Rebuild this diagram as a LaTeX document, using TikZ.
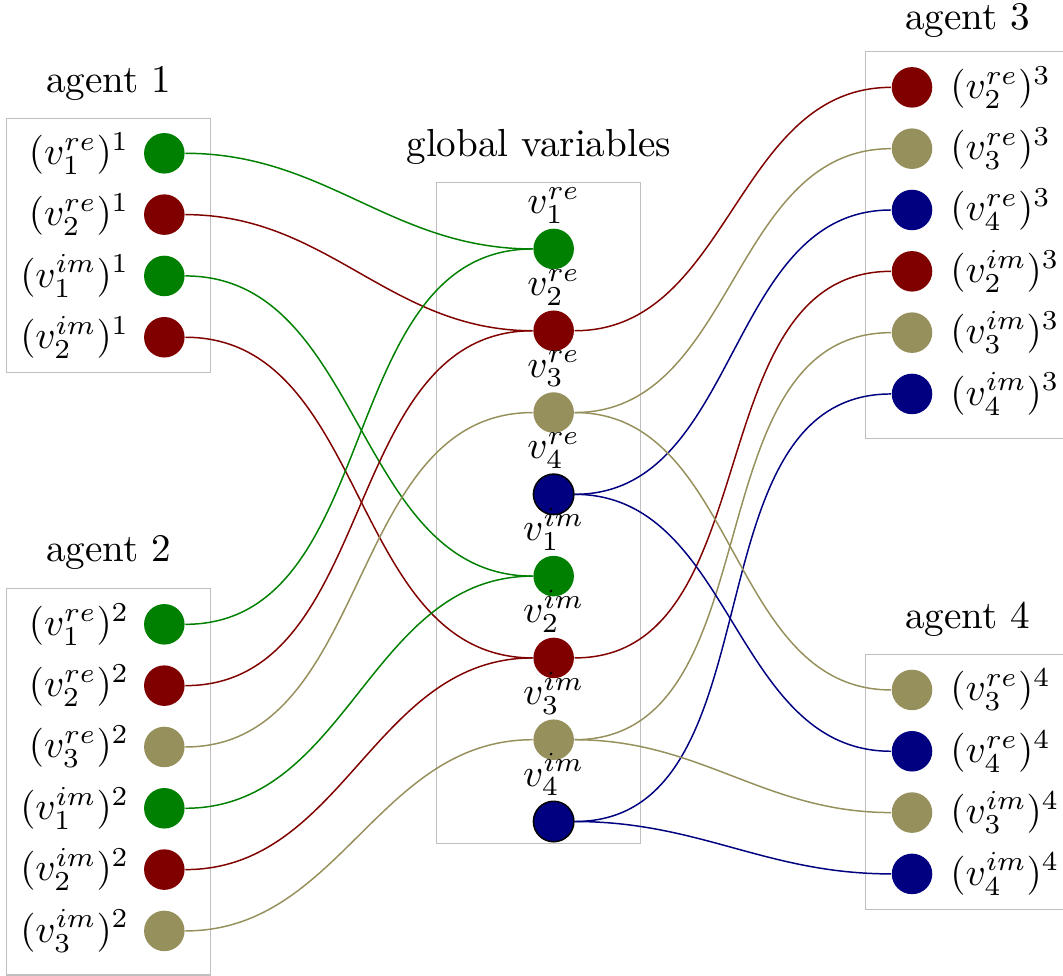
\RequirePackage{fix-cm}
\documentclass[tikz,border=0pt]{standalone}
\usepackage{amsmath}
\usetikzlibrary{positioning}
\definecolor{vgreen}{RGB}{0,128,0}
\definecolor{vred}{RGB}{128,0,0}
\definecolor{volive}{RGB}{150,144,92}
\definecolor{vblue}{RGB}{0,0,128}

\begin{document}
\begin{tikzpicture}[node distance={5.84mm}, thin, label distance=1.2pt,
    font=\fontsize{10.6pt}{12.7pt}\selectfont,
    main/.style = {circle, minimum size=0.386cm, inner sep=0pt},
    box/.style = {draw=black!25, inner sep=0pt, minimum width=1.943cm},
    lft/.style = {label={[label distance=0.3pt]left:#1}},
    glob/.style = {label={[label distance=-2.3pt]above:#1}}]
\useasboundingbox (0,0) rectangle (10.124,-9.295);

% boxes
\node[box, minimum height=2.419cm, label=above:agent 1] (agent1) at (1.035,-2.336) {};
\node[box, minimum height=3.683cm, label=above:agent 2] (agent2) at (1.035,-7.444) {};
\node[box, minimum height=6.291cm, label=above:global variables] (global) at (5.130,-4.886) {};
\node[box, minimum height=3.682cm, label={[label distance=0.2pt]above:agent 3}] (agent3) at (9.216,-2.333) {};
\node[box, minimum height=2.429cm, label=above:agent 4] (agent4) at (9.216,-7.446) {};

% agent 1
\node[main, fill=vgreen, lft=$(v_1^{re})^1$] (a1v1re) at (1.565,-1.460) {};
\node[main, fill=vred, lft=$(v_2^{re})^1$] (a1v2re) [below of = a1v1re] {};
\node[main, fill=vgreen, lft=$(v_1^{im})^1$] (a1v1im) [below of = a1v2re] {};
\node[main, fill=vred, lft=$(v_2^{im})^1$] (a1v2im) [below of = a1v1im] {};

% agent 2
\node[main, fill=vgreen, lft=$(v_1^{re})^2$] (a2v1re) at (1.565,-5.946) {};
\node[main, fill=vred, lft=$(v_2^{re})^2$] (a2v2re) [below of = a2v1re] {};
\node[main, fill=volive, lft=$(v_3^{re})^2$] (a2v3re) [below of = a2v2re] {};
\node[main, fill=vgreen, lft=$(v_1^{im})^2$] (a2v1im) [below of = a2v3re] {};
\node[main, fill=vred, lft=$(v_2^{im})^2$] (a2v2im) [below of = a2v1im] {};
\node[main, fill=volive, lft=$(v_3^{im})^2$] (a2v3im) [below of = a2v2im] {};

% global variables
\begin{scope}[node distance={7.79mm}]
\node[main, fill=vgreen, glob=$v_1^{re}$] (v1re) at (5.273,-2.371) {};
\node[main, fill=vred, glob=$v_2^{re}$] (v2re) [below of = v1re] {};
\node[main, fill=volive, glob=$v_3^{re}$] (v3re) [below of = v2re] {};
\node[main, fill=vblue, draw=black, glob=$v_4^{re}$] (v4re) [below of = v3re] {};
\node[main, fill=vgreen, glob=$v_1^{im}$] (v1im) [below of = v4re] {};
\node[main, fill=vred, glob=$v_2^{im}$] (v2im) [below of = v1im] {};
\node[main, fill=volive, glob=$v_3^{im}$] (v3im) [below of = v2im] {};
\node[main, fill=vblue, draw=black, glob=$v_4^{im}$] (v4im) [below of = v3im] {};
\end{scope}

% agent 3
\node[main, fill=vred, label=right:$(v_2^{re})^3$] (a3v2re) at (8.686,-0.832) {};
\node[main, fill=volive, label=right:$(v_3^{re})^3$] (a3v3re) [below of = a3v2re] {};
\node[main, fill=vblue, label=right:$(v_4^{re})^3$] (a3v4re) [below of = a3v3re] {};
\node[main, fill=vred, label=right:$(v_2^{im})^3$] (a3v2im) [below of = a3v4re] {};
\node[main, fill=volive, label=right:$(v_3^{im})^3$] (a3v3im) [below of = a3v2im] {};
\node[main, fill=vblue, label=right:$(v_4^{im})^3$] (a3v4im) [below of = a3v3im] {};

% agent 4
\node[main, fill=volive, label=right:$(v_3^{re})^4$] (a4v3re) at (8.686,-6.571) {};
\node[main, fill=vblue, label=right:$(v_4^{re})^4$] (a4v4re) [below of = a4v3re] {};
\node[main, fill=volive, label=right:$(v_3^{im})^4$] (a4v3im) [below of = a4v4re] {};
\node[main, fill=vblue, label=right:$(v_4^{im})^4$] (a4v4im) [below of = a4v3im] {};

% agents 1, 2 -> global
\draw[vgreen] (a1v1re) to[out=0, in=180] (v1re);
\draw[vred] (a1v2re) to[out=0, in=180] (v2re);
\draw[vgreen] (a1v1im) to[out=0, in=180] (v1im);
\draw[vred] (a1v2im) to[out=0, in=180] (v2im);
\draw[vgreen] (a2v1re) to[out=0, in=180] (v1re);
\draw[vred] (a2v2re) to[out=0, in=180] (v2re);
\draw[volive] (a2v3re) to[out=0, in=180] (v3re);
\draw[vgreen] (a2v1im) to[out=0, in=180] (v1im);
\draw[vred] (a2v2im) to[out=0, in=180] (v2im);
\draw[volive] (a2v3im) to[out=0, in=180] (v3im);

% global -> agents 3, 4
\draw[vred] (v2re) to[out=0, in=180] (a3v2re);
\draw[volive] (v3re) to[out=0, in=180] (a3v3re);
\draw[vblue] (v4re) to[out=0, in=180] (a3v4re);
\draw[vred] (v2im) to[out=0, in=180] (a3v2im);
\draw[volive] (v3im) to[out=0, in=180] (a3v3im);
\draw[vblue] (v4im) to[out=0, in=180] (a3v4im);
\draw[volive] (v3re) to[out=0, in=180] (a4v3re);
\draw[vblue] (v4re) to[out=0, in=180] (a4v4re);
\draw[volive] (v3im) to[out=0, in=180] (a4v3im);
\draw[vblue] (v4im) to[out=0, in=180] (a4v4im);
\end{tikzpicture}
\end{document}
